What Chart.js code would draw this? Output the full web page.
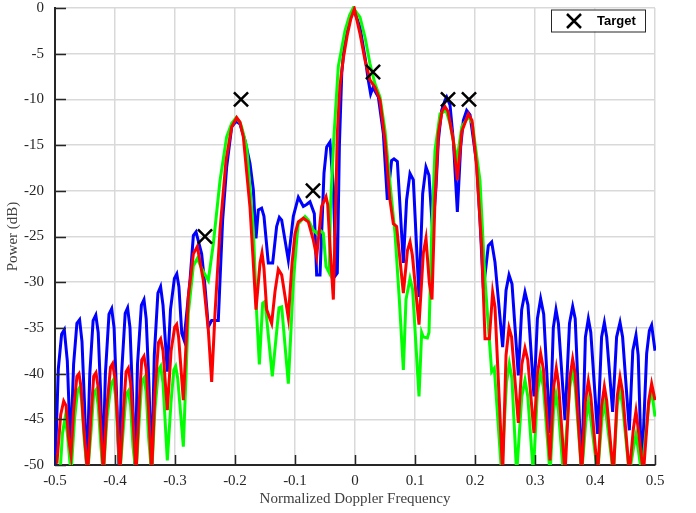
<!DOCTYPE html>
<html>
<head>
<meta charset="utf-8">
<script src="https://cdn.jsdelivr.net/npm/chart.js@4.4.1/dist/chart.umd.min.js"></script>
<style>
  html, body { margin: 0; padding: 0; background: #ffffff; }
  #DopplerChart { display: block; }
</style>
</head>
<body>
<canvas id="DopplerChart" width="696" height="513"></canvas>
<script>
const DopplerCanvas = document.getElementById("DopplerChart");

// axis ticks
const xTicks = [-0.5, -0.4, -0.3, -0.2, -0.1, 0, 0.1, 0.2, 0.3, 0.4, 0.5];
const xTickLabels = ['-0.5', '-0.4', '-0.3', '-0.2', '-0.1', '0', '0.1', '0.2', '0.3', '0.4', '0.5'];
const yTicks = [-50, -45, -40, -35, -30, -25, -20, -15, -10, -5, 0];
const yTickLabels = ['-50', '-45', '-40', '-35', '-30', '-25', '-20', '-15', '-10', '-5', '0'];

// [normalized doppler, power dB]
const bluePoints = [
    [-0.5,-51],[-0.4945,-39.5],[-0.489,-35.7],[-0.4845,-35.2],[-0.4795,-38.6],[-0.474,-48.4],
    [-0.469,-39],[-0.4635,-34.5],[-0.459,-34.1],[-0.455,-36.5],[-0.451,-43],[-0.447,-51],
    [-0.442,-40],[-0.4365,-34.2],[-0.432,-33.6],[-0.428,-35.5],[-0.424,-42],[-0.4205,-51],
    [-0.416,-40],[-0.41,-33.5],[-0.4055,-32.9],[-0.4015,-35],[-0.397,-43],[-0.393,-51],
    [-0.389,-40],[-0.383,-33.4],[-0.379,-32.8],[-0.375,-35],[-0.371,-42],[-0.3665,-51],
    [-0.3625,-39],[-0.356,-32.5],[-0.3517,-31.9],[-0.348,-34],[-0.3435,-41],[-0.339,-51],
    [-0.3345,-38],[-0.3285,-31.2],[-0.324,-30.5],[-0.32,-32.5],[-0.3128,-39.8],
    [-0.3075,-33],[-0.301,-29.6],[-0.297,-29.1],[-0.2935,-30.5],[-0.2887,-35.6],[-0.285,-36.3],
    [-0.275,-29.8],[-0.2694,-24.9],[-0.265,-24.5],[-0.2556,-26.9],[-0.25,-30.5],[-0.2445,-34.9],[-0.239,-34.2],[-0.2278,-34.2],
    [-0.225,-29.8],[-0.2206,-23.2],[-0.2139,-17.4],[-0.2055,-13],[-0.198,-12.4],[-0.1917,-12.7],[-0.1833,-14.5],[-0.175,-17],[-0.1694,-19.9],[-0.165,-25.2],
    [-0.1611,-22.1],[-0.1556,-21.9],[-0.1517,-22.8],[-0.1445,-27.9],[-0.1372,-27.9],[-0.1306,-23.9],[-0.1261,-22.9],[-0.1222,-23.2],[-0.1111,-27.6],
    [-0.1028,-22.8],[-0.0944,-20.7],[-0.0861,-21.7],[-0.0806,-21.5],[-0.075,-21.2],[-0.0678,-22.5],[-0.0639,-29.2],[-0.0583,-29.2],
    [-0.0517,-18.1],[-0.0472,-15.2],[-0.0417,-14.65],[-0.0361,-19.6],[-0.0317,-29.2],[-0.0295,-29],
    [-0.026,-15],[-0.022,-7],[-0.016,-3],[-0.009,-1],[-0.002,-0.2],
    [0.0083,-2.1],[0.0167,-5.4],[0.0222,-7.9],[0.0261,-9.4],[0.03,-8.7],[0.0389,-9.75],[0.0472,-13.7],[0.0539,-21],
    [0.061,-16.7],[0.065,-16.5],[0.0706,-16.8],[0.0806,-27.9],[0.086,-21],[0.0917,-18.1],[0.0972,-18.8],[0.1067,-31.6],
    [0.1128,-20.3],[0.1183,-17.4],[0.1233,-18.3],[0.1294,-24.5],[0.135,-19.6],[0.1389,-14.5],[0.1444,-11.2],[0.15,-10.1],[0.1528,-9.75],[0.1583,-10.6],[0.1639,-14.5],[0.1706,-22.3],
    [0.1761,-15.2],[0.1806,-12.3],[0.1861,-11.2],[0.1917,-11.7],[0.2028,-17],[0.2083,-23.2],[0.2139,-30.7],
    [0.2183,-28.3],[0.2222,-26],[0.2278,-25.6],[0.2333,-27.8],[0.2461,-37.1],
    [0.2517,-30.9],[0.2567,-29.2],[0.2617,-30.2],[0.2722,-40.2],
    [0.2778,-33],[0.2833,-31.1],[0.2883,-32.5],[0.2983,-42.5],
    [0.304,-34],[0.3094,-31.8],[0.3145,-33.5],[0.325,-46.5],
    [0.3305,-35],[0.335,-33],[0.339,-34.5],[0.35,-45.1],
    [0.3575,-34.5],[0.3628,-32.65],[0.367,-34],[0.3778,-51],
    [0.384,-36],[0.3889,-34],[0.393,-35.5],[0.4044,-46.6],
    [0.411,-36],[0.4156,-34.4],[0.4195,-36],[0.4294,-44.2],
    [0.436,-36],[0.4417,-34.4],[0.446,-36],[0.4572,-46.2],
    [0.463,-37.5],[0.4683,-35.8],[0.472,-38],[0.4778,-51],
    [0.4861,-37.8],[0.4906,-35.3],[0.4944,-34.7],[0.5,-37.5]
];

const redPoints = [
    [-0.5,-49.7],[-0.4967,-49.7],[-0.4905,-44.5],[-0.4855,-43],[-0.4815,-43.5],[-0.4775,-47],[-0.4733,-48.9],
    [-0.469,-44],[-0.4635,-40.3],[-0.46,-40],[-0.4565,-41.5],[-0.452,-46],[-0.4456,-51],
    [-0.4405,-45],[-0.4355,-40.3],[-0.4317,-39.9],[-0.428,-41.5],[-0.4235,-46],[-0.4194,-51],
    [-0.414,-44],[-0.4075,-39.3],[-0.4039,-38.9],[-0.4,-40.5],[-0.396,-45],[-0.392,-51],
    [-0.386,-44],[-0.3815,-39.8],[-0.3778,-39.4],[-0.374,-41],[-0.37,-45],[-0.365,-51],
    [-0.3595,-43],[-0.3555,-38.5],[-0.3517,-38.1],[-0.348,-39.5],[-0.344,-44],[-0.3389,-51],
    [-0.3335,-42],[-0.3275,-36.6],[-0.3239,-36.2],[-0.32,-37.5],[-0.3128,-44],
    [-0.3065,-37.5],[-0.3005,-34.9],[-0.2972,-34.6],[-0.294,-36],[-0.2861,-42.9],
    [-0.2778,-31.6],[-0.2694,-26.9],[-0.2628,-26.1],[-0.2528,-29.8],[-0.2445,-35.2],[-0.2389,-40.9],
    [-0.2333,-33.4],[-0.225,-24.3],[-0.215,-16.7],[-0.2055,-13],[-0.1972,-12],[-0.1917,-12.5],[-0.1861,-14.1],[-0.175,-21.8],[-0.1694,-28],[-0.165,-33],
    [-0.1583,-27.9],[-0.155,-26.8],[-0.1517,-28.5],[-0.1472,-33],[-0.1389,-34.5],
    [-0.1333,-31],[-0.1278,-28.6],[-0.1222,-29.2],[-0.1111,-33.9],
    [-0.105,-28],[-0.1,-24.7],[-0.0945,-23.4],[-0.0861,-23],[-0.0778,-23.4],[-0.0694,-25.4],[-0.0639,-27.2],
    [-0.0556,-21.7],[-0.0483,-20.65],[-0.0455,-21.5],[-0.0417,-26.1],[-0.0361,-31.9],
    [-0.0333,-24.65],[-0.0294,-13.7],[-0.025,-8.5],[-0.0195,-5.5],[-0.013,-3],[-0.007,-1.2],[-0.001,-0.1],
    [0.0083,-2.8],[0.0167,-5.7],[0.025,-7.9],[0.0333,-8.7],[0.0417,-10.1],[0.05,-14.5],[0.0583,-21],[0.0639,-23.6],[0.0694,-23.9],[0.0806,-31.2],
    [0.0875,-26.5],[0.0917,-25.6],[0.0955,-27],[0.1067,-34.65],
    [0.1139,-26.8],[0.1183,-25.2],[0.1239,-30.1],[0.1283,-31.9],
    [0.1333,-21],[0.1389,-13.7],[0.145,-11.3],[0.15,-10.8],[0.155,-11.3],[0.1639,-14.5],[0.1706,-18.85],
    [0.178,-13.5],[0.1889,-11.6],[0.195,-12.3],[0.2028,-17.4],[0.2111,-26.1],[0.2167,-36.2],[0.2239,-36.2],
    [0.2294,-31.1],[0.2333,-32.7],[0.2461,-51],
    [0.2517,-38],[0.2567,-35],[0.261,-36],[0.2722,-45.4],
    [0.278,-39],[0.2833,-37.2],[0.288,-38.5],[0.2983,-46.5],
    [0.304,-40],[0.3094,-37.8],[0.314,-39.5],[0.325,-49.5],
    [0.331,-41.5],[0.3355,-39.4],[0.339,-41],[0.35,-51],
    [0.358,-40.5],[0.3628,-38.4],[0.367,-40],[0.3778,-51],
    [0.384,-43],[0.3889,-40.8],[0.393,-42.5],[0.4044,-51],
    [0.411,-43.5],[0.4156,-41.4],[0.4195,-43],[0.4306,-51],
    [0.437,-42.5],[0.4417,-40.4],[0.446,-42],[0.4572,-51],
    [0.464,-46],[0.4683,-44.1],[0.472,-46],[0.4806,-51],
    [0.4895,-43],[0.4944,-41.1],[0.5,-42.9]
];

const greenPoints = [
    [-0.4917,-51],[-0.4875,-46.5],[-0.4833,-44.9],[-0.4795,-46.5],[-0.4733,-51],
    [-0.4675,-45],[-0.4625,-41.9],[-0.4589,-41.5],[-0.4555,-43],[-0.451,-47.5],[-0.4456,-51],
    [-0.4395,-46],[-0.4355,-42.2],[-0.4317,-41.8],[-0.428,-43.5],[-0.4235,-48],[-0.4194,-51],
    [-0.4135,-45],[-0.4065,-41.1],[-0.4028,-40.7],[-0.399,-42.5],[-0.395,-47],[-0.392,-51],
    [-0.386,-46],[-0.3815,-42.3],[-0.3778,-41.9],[-0.374,-43.5],[-0.37,-48],[-0.365,-51],
    [-0.3595,-45],[-0.3555,-40.9],[-0.3517,-40.5],[-0.348,-42],[-0.344,-47],[-0.3389,-51],
    [-0.3335,-44],[-0.3275,-39.6],[-0.3239,-39.2],[-0.32,-41],[-0.3128,-49.5],
    [-0.3065,-43],[-0.302,-39.6],[-0.2989,-39.2],[-0.2955,-40.5],[-0.2861,-48],
    [-0.2778,-33.4],[-0.2694,-28.2],[-0.2628,-27.4],[-0.2556,-28.5],[-0.2445,-29.8],
    [-0.2361,-25.8],[-0.225,-18.9],[-0.2139,-14.1],[-0.2055,-12.6],[-0.198,-12],[-0.1917,-12.5],[-0.1889,-13],[-0.1805,-15.2],[-0.1694,-24.3],[-0.1639,-33.4],[-0.1594,-39],
    [-0.1539,-32.3],[-0.15,-32.1],[-0.1378,-40.3],
    [-0.1267,-32.8],[-0.1222,-32.7],[-0.1111,-41.1],
    [-0.1028,-30],[-0.0972,-25.4],[-0.0945,-23.6],[-0.0833,-22.8],[-0.0778,-23.2],[-0.0694,-24.3],[-0.0639,-24.65],[-0.0583,-24.3],[-0.0528,-24.65],[-0.0483,-28.3],[-0.0428,-29],
    [-0.041,-22],[-0.0355,-14.5],[-0.0278,-6.4],[-0.0167,-2.5],[-0.009,-0.8],[-0.003,0],
    [0.0083,-1],[0.0167,-3.2],[0.025,-6.1],[0.0333,-8.3],[0.0417,-9.75],[0.05,-13.4],[0.0583,-19.2],[0.0667,-24.65],[0.0739,-31.9],[0.0806,-39.6],
    [0.085,-31.9],[0.0917,-29.6],[0.096,-30.8],[0.1067,-42.5],
    [0.1111,-35.5],[0.1139,-36],[0.1206,-36.1],[0.1233,-35.5],
    [0.1278,-24.65],[0.1333,-15.6],[0.1417,-11.6],[0.1517,-11.2],[0.1583,-12.65],[0.17,-16.6],
    [0.178,-13],[0.1889,-11.9],[0.1955,-12.6],[0.2083,-18.85],[0.2167,-29.8],[0.2278,-39.8],[0.2322,-39.4],[0.2444,-51],
    [0.2525,-41],[0.2572,-38.9],[0.2615,-40.5],[0.2694,-51],
    [0.278,-42.5],[0.2833,-40.7],[0.288,-42.5],[0.2972,-51],
    [0.304,-42],[0.3094,-39.9],[0.314,-41.5],[0.325,-51],
    [0.331,-44],[0.335,-42.3],[0.339,-44],[0.3472,-51],
    [0.358,-41.5],[0.3628,-39.5],[0.367,-41.5],[0.3778,-51],
    [0.385,-45],[0.3889,-43.1],[0.393,-45],[0.4044,-51],
    [0.4115,-45],[0.4156,-43.1],[0.4195,-45],[0.4306,-51],
    [0.437,-43.5],[0.4417,-41.8],[0.446,-43.5],[0.4572,-51],
    [0.4645,-48],[0.4683,-46.7],[0.4715,-48],[0.4778,-51],
    [0.4895,-43.5],[0.4944,-41.8],[0.5,-44.7]
];

// true target positions
const targetX = [-0.25, -0.19, -0.07, 0.03, 0.155, 0.19];
const targetY = [-25, -10, -20, -7, -10, -10];

const AXIS_COLOR = '#262626';
const GRID_COLOR = '#d9d9d9';

function toXY(points)
{
    return points.map(p => ({ x: p[0], y: p[1] }));
}

function lineDataset(points, color, order)
{
    return {
        data: toXY(points),
        borderColor: color,
        backgroundColor: color,
        borderWidth: 3,
        pointRadius: 0,
        tension: 0,
        order: order,
        clip: { left: 1, right: 1, top: 2, bottom: 0 }
    };
}

// inward tick marks + boxed "Target" legend like the original figure
const axesOverlay = {
    id: 'axesOverlay',
    afterDraw(chart) {
        const ctx = chart.ctx;
        const area = chart.chartArea;
        const xs = chart.scales.x;
        const ys = chart.scales.y;

        ctx.save();
        ctx.strokeStyle = AXIS_COLOR;
        ctx.lineWidth = 1.5;
        ctx.beginPath();
        for (let i = 0; i < xTicks.length; i++)
        {
            const px = Math.round(xs.getPixelForValue(xTicks[i])) + 0.5;
            ctx.moveTo(px, area.bottom);
            ctx.lineTo(px, area.bottom - 10);
        }
        for (let i = 0; i < yTicks.length; i++)
        {
            const py = Math.round(ys.getPixelForValue(yTicks[i])) + 0.5;
            ctx.moveTo(area.left, py);
            ctx.lineTo(area.left + 11, py);
        }
        ctx.stroke();

        // legend box
        const bx = area.right - 104, by = area.top + 1.5, bw = 94, bh = 22;
        ctx.fillStyle = '#ffffff';
        ctx.fillRect(bx, by, bw, bh);
        ctx.lineWidth = 1;
        ctx.strokeStyle = AXIS_COLOR;
        ctx.strokeRect(bx + 0.5, by + 0.5, bw, bh);

        const cx = bx + 23, cy = by + 11.5;
        ctx.strokeStyle = '#000000';
        ctx.lineWidth = 2.5;
        ctx.beginPath();
        ctx.moveTo(cx - 7, cy - 7);
        ctx.lineTo(cx + 7, cy + 7);
        ctx.moveTo(cx + 7, cy - 7);
        ctx.lineTo(cx - 7, cy + 7);
        ctx.stroke();

        ctx.fillStyle = '#000000';
        ctx.font = 'bold 13px "Liberation Sans", Arial, sans-serif';
        ctx.textBaseline = 'middle';
        ctx.textAlign = 'left';
        ctx.fillText('Target', bx + 46, cy + 0.5);
        ctx.restore();
    }
};

const DopplerChartVar = new Chart(DopplerCanvas, {
    type: 'line',
    data: {
        datasets: [
            {
                type: 'scatter',
                label: 'Target',
                data: targetX.map((x, i) => ({ x: x, y: targetY[i] })),
                pointStyle: 'crossRot',
                pointRadius: 10,
                pointHoverRadius: 10,
                pointBorderWidth: 2.5,
                borderColor: '#000000',
                backgroundColor: '#000000',
                showLine: false,
                order: 0,
                clip: false
            },
            lineDataset(redPoints, '#ff0000', 1),
            lineDataset(greenPoints, '#00ff00', 2),
            lineDataset(bluePoints, '#0000ff', 3)
        ]
    },
    options: {
        responsive: false,
        animation: false,
        devicePixelRatio: 1,
        layout: {
            autoPadding: false,
            padding: { top: 8, right: 41, left: 0, bottom: 0 }
        },
        plugins: {
            legend: { display: false },
            tooltip: { enabled: false }
        },
        scales: {
            x: {
                type: 'linear',
                min: -0.5,
                max: 0.5,
                afterBuildTicks: (scale) => { scale.ticks = xTicks.map(v => ({ value: v })); },
                afterFit: (scale) => {
                    scale.height = 48;
                    scale.paddingLeft = 0;
                    scale.paddingRight = 0;
                },
                ticks: {
                    padding: 7,
                    color: AXIS_COLOR,
                    font: { family: '"Liberation Serif", "Times New Roman", serif', size: 15 },
                    maxRotation: 0,
                    callback: (value) => xTickLabels[xTicks.indexOf(value)]
                },
                grid: { color: GRID_COLOR, lineWidth: 1.5, drawTicks: false },
                border: { color: AXIS_COLOR, width: 2 },
                title: {
                    display: true,
                    text: 'Normalized Doppler Frequency',
                    color: '#404040',
                    font: { family: '"Liberation Serif", "Times New Roman", serif', size: 15 },
                    padding: { top: 0, bottom: 5 }
                }
            },
            y: {
                type: 'linear',
                min: -50,
                max: 0,
                afterBuildTicks: (scale) => { scale.ticks = yTicks.map(v => ({ value: v })); },
                afterFit: (scale) => {
                    scale.width = 55;
                    scale.paddingTop = 0;
                    scale.paddingBottom = 0;
                },
                ticks: {
                    padding: 11,
                    color: AXIS_COLOR,
                    font: { family: '"Liberation Serif", "Times New Roman", serif', size: 15 },
                    callback: (value) => yTickLabels[yTicks.indexOf(value)]
                },
                grid: { color: GRID_COLOR, lineWidth: 1.5, drawTicks: false },
                border: { color: AXIS_COLOR, width: 2 },
                title: {
                    display: true,
                    text: 'Power (dB)',
                    color: '#404040',
                    font: { family: '"Liberation Serif", "Times New Roman", serif', size: 15 },
                    padding: { top: 4, bottom: 0 }
                }
            }
        }
    },
    plugins: [axesOverlay]
});
</script>
</body>
</html>
